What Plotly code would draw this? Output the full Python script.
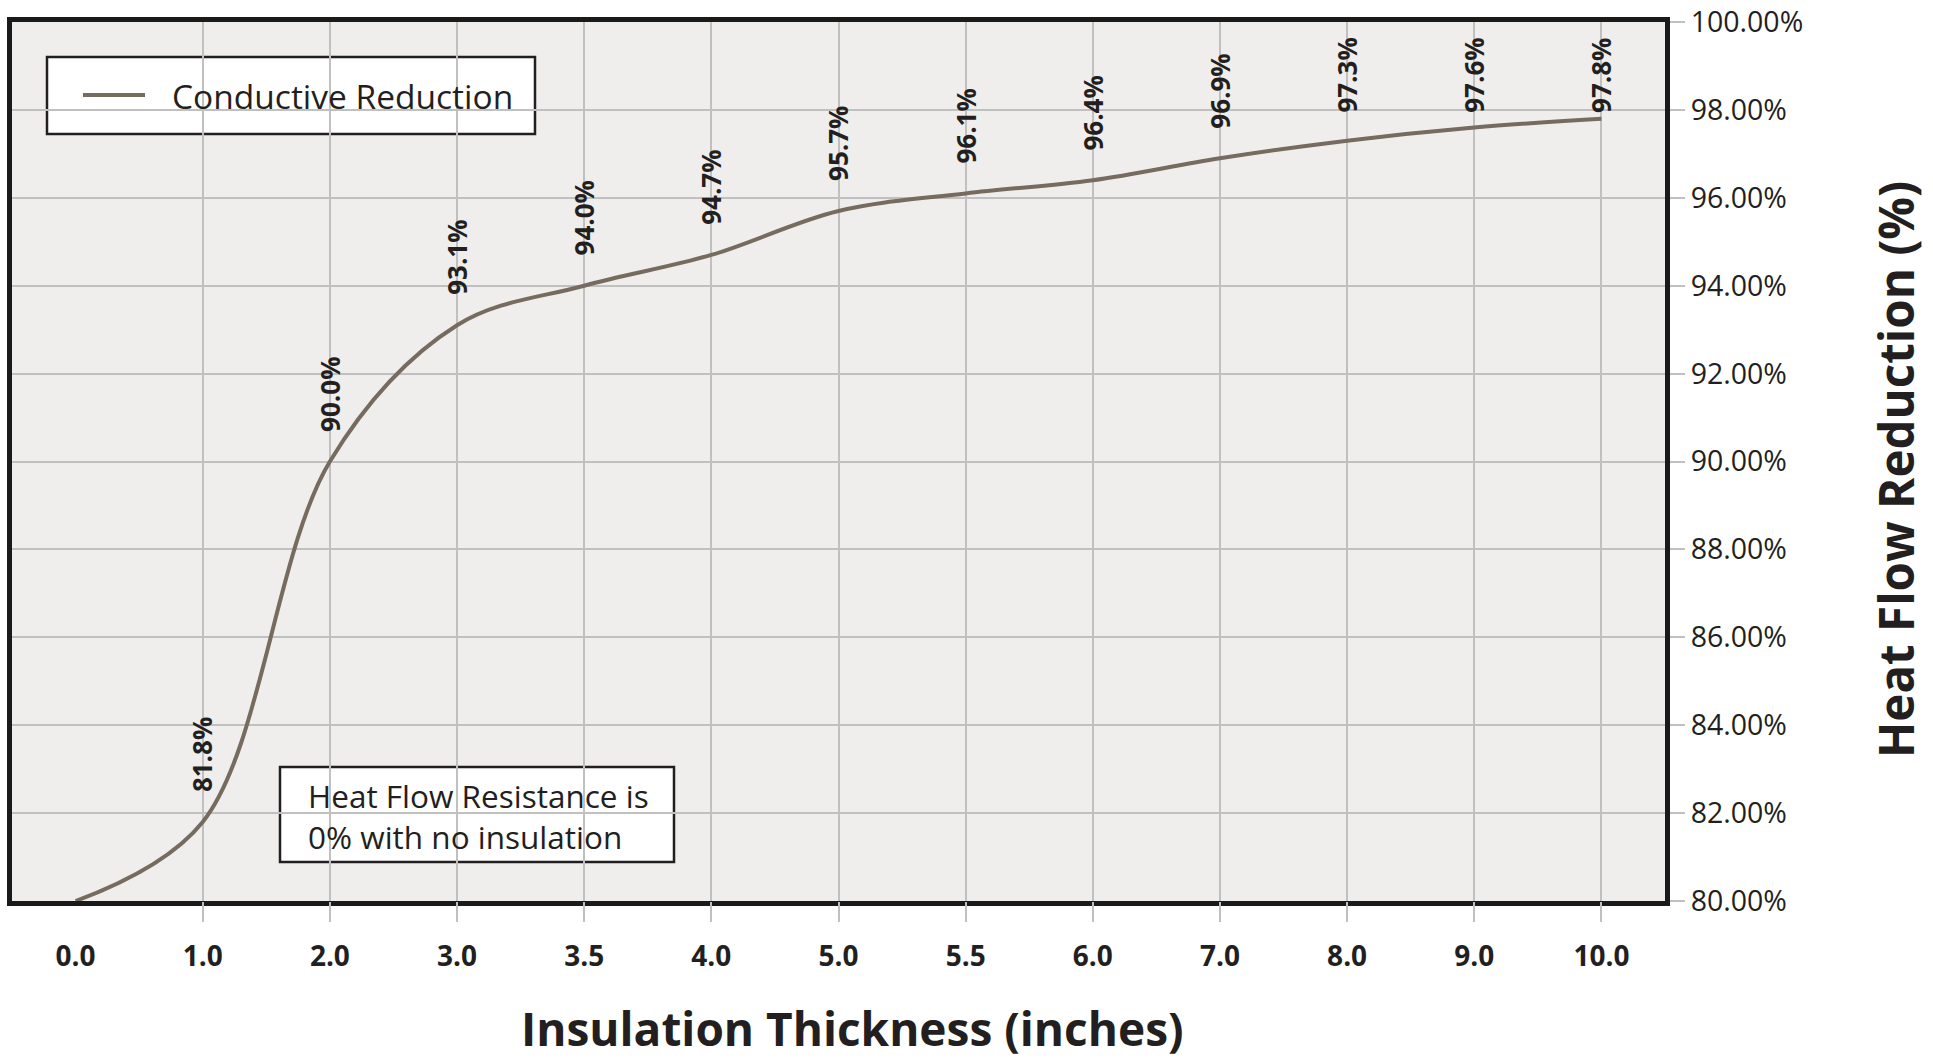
import plotly.graph_objects as go

# ---- data ----
thickness = ["0.0", "1.0", "2.0", "3.0", "3.5", "4.0", "5.0", "5.5", "6.0", "7.0", "8.0", "9.0", "10.0"]
reduction = [80.0, 81.8, 90.0, 93.1, 94.0, 94.7, 95.7, 96.1, 96.4, 96.9, 97.3, 97.6, 97.8]
label_text = ["", "81.8%", "90.0%", "93.1%", "94.0%", "94.7%", "95.7%", "96.1%", "96.4%", "96.9%", "97.3%", "97.6%", "97.8%"]
y_ticks = [80, 82, 84, 86, 88, 90, 92, 94, 96, 98, 100]

series_name = "Conductive Reduction"
note_text = "Heat Flow Resistance is<br>0% with no insulation"
x_title = "Insulation Thickness (inches)"
y_title = "Heat Flow Reduction (%)"

LINE = "#766b5f"
TXT = "#231f20"
GRID = "#c0c0c0"
FONT = "Open Sans"

W, H = 1933, 1060
ML, MR, MT, MB = 12, 268, 22, 159
plot_h = H - MT - MB
plot_w = W - ML - MR
Y0, Y1 = 80, 100

fig = go.Figure()
fig.add_trace(go.Scatter(
    x=thickness, y=reduction, mode="lines", name=series_name,
    line=dict(color=LINE, width=4, shape="spline", smoothing=1.0),
    showlegend=False, cliponaxis=False,
))
# invisible trace so the overlay axis (grid + ticks) is drawn
fig.add_trace(go.Scatter(x=thickness, y=reduction, xaxis="x2", mode="lines",
                         line=dict(width=0), opacity=0, hoverinfo="skip",
                         showlegend=False))

# rotated data labels, kept inside plot area near the top
label_len = 76
for i, (v, t) in enumerate(zip(reduction, label_text)):
    if not t:
        continue
    px_from_top = (Y1 - v) / (Y1 - Y0) * plot_h
    shift = min(28, px_from_top - 17 - label_len)
    fig.add_annotation(x=i, y=v, text=t, textangle=-90, showarrow=False,
                       xanchor="center", yanchor="bottom", yshift=shift,
                       font=dict(family=FONT, size=26, color=TXT, weight="bold"))

def px_x(p):
    return (p - ML) / plot_w

def px_y(p):
    return (H - MB - p) / plot_h

# legend box (manual)
fig.add_shape(type="rect", xref="paper", yref="paper", layer="between",
              x0=px_x(47), x1=px_x(535), y0=px_y(134), y1=px_y(57),
              fillcolor="white", line=dict(color=TXT, width=2.5))
fig.add_shape(type="line", xref="paper", yref="paper", layer="between",
              x0=px_x(83), x1=px_x(145), y0=px_y(95), y1=px_y(95),
              line=dict(color=LINE, width=4))
fig.add_annotation(xref="paper", yref="paper", x=px_x(170), y=px_y(96),
                   text=series_name, showarrow=False, xanchor="left", yanchor="middle",
                   font=dict(family=FONT, size=33.5, color=TXT))

# note box
fig.add_shape(type="rect", xref="paper", yref="paper", layer="between",
              x0=px_x(280), x1=px_x(674), y0=px_y(862), y1=px_y(767),
              fillcolor="white", line=dict(color=TXT, width=2.5))
fig.add_annotation(xref="paper", yref="paper", x=px_x(306), y=px_y(816),
                   text=note_text, showarrow=False, xanchor="left", yanchor="middle",
                   align="left",
                   font=dict(family=FONT, size=31.5, color=TXT))

# axis titles
fig.add_annotation(xref="paper", yref="paper", x=px_x(852), y=px_y(1028),
                   text=x_title, showarrow=False, xanchor="center", yanchor="middle",
                   font=dict(family=FONT, size=46, color=TXT, weight="bold"))
fig.add_annotation(xref="paper", yref="paper", x=px_x(1896), y=px_y(470),
                   text=y_title, showarrow=False, textangle=-90,
                   xanchor="center", yanchor="middle",
                   font=dict(family=FONT, size=47.5, color=TXT, weight="bold"))

fig.update_layout(
    width=W, height=H,
    margin=dict(l=ML, r=MR, t=MT, b=MB, autoexpand=False),
    paper_bgcolor="white", plot_bgcolor="#efeeec",
    font=dict(family=FONT, color=TXT),
    showlegend=False,
    xaxis=dict(
        type="category", categoryorder="array", categoryarray=thickness,
        range=[-0.5, len(thickness) - 0.5], automargin=False,
        showgrid=False,
        showline=True, mirror=True, linecolor="#1a1a1a", linewidth=5,
        ticks="", ticklabelstandoff=26,
        tickfont=dict(family=FONT, size=28, color=TXT, weight="bold"),
        zeroline=False,
    ),
    xaxis2=dict(
        type="category", categoryorder="array", categoryarray=thickness,
        overlaying="x", anchor="y", side="bottom", matches="x",
        range=[-0.5, len(thickness) - 0.5], automargin=False,
        tickvals=thickness[1:], showticklabels=False,
        showgrid=True, gridcolor=GRID, gridwidth=2,
        ticks="outside", ticklen=20, tickcolor=GRID, tickwidth=2,
        showline=False, zeroline=False,
    ),
    yaxis=dict(
        side="right", range=[Y0, Y1], tickvals=y_ticks, automargin=False,
        ticktext=[f"{v:.2f}%" for v in y_ticks],
        showgrid=True, gridcolor=GRID, gridwidth=2,
        showline=True, mirror=True, linecolor="#1a1a1a", linewidth=5,
        ticks="outside", ticklen=15, tickcolor=GRID, tickwidth=2,
        tickfont=dict(family=FONT, size=28.5, color=TXT),
        zeroline=False,
    ),
)

fig.write_html("out.html", config={"displayModeBar": False},
               post_script="document.body.style.margin='0';document.body.style.overflow='hidden';")
